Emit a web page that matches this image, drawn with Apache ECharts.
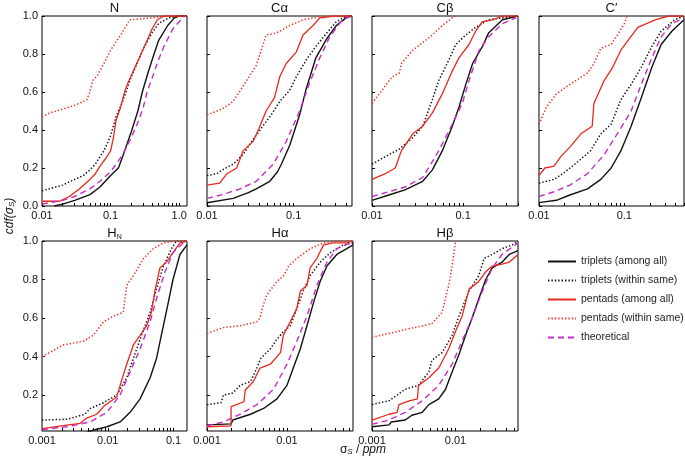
<!DOCTYPE html>
<html><head><meta charset="utf-8">
<script src="https://cdn.jsdelivr.net/npm/echarts@6/dist/echarts.min.js"></script>
<style>html,body{margin:0;padding:0;background:#fff}#c{width:685px;height:460px}</style>
</head><body><div id="c"></div>
<script>
// ---------- DATA ----------
const seriesNames = ['triplets (among all)','triplets (within same)','pentads (among all)','pentads (within same)','theoretical'];
const panelTitles = ['N','Cα','Cβ','C′','HN','Hα','Hβ'];
const xMins = [0.01,0.01,0.01,0.01,0.001,0.001,0.001];
const xMaxs = [1.3,0.47,0.4,0.5,0.16,0.067,0.056];
const xTickLabels = [[0.01,0.1,1],[0.01,0.1],[0.01,0.1],[0.01,0.1],[0.001,0.01,0.1],[0.001,0.01],[0.001,0.01]];
const yTickLabelsTop = [0,0.2,0.4,0.6,0.8,1.0];
const yTickLabelsBottom = [0.2,0.4,0.6,0.8,1.0];

const N_triAll = [[0.015,0],[0.02,0.01],[0.03,0.03],[0.05,0.06],[0.07,0.1],[0.1,0.16],[0.13,0.2],[0.15,0.26],[0.2,0.39],[0.25,0.5],[0.29,0.6],[0.35,0.7],[0.43,0.8],[0.5,0.87],[0.68,0.95],[0.85,0.99],[1.0,1.0],[1.3,1.0]];
const N_triSame = [[0.01,0.08],[0.02,0.11],[0.03,0.14],[0.04,0.16],[0.05,0.19],[0.06,0.22],[0.07,0.26],[0.08,0.29],[0.1,0.37],[0.12,0.47],[0.15,0.55],[0.2,0.68],[0.25,0.76],[0.3,0.83],[0.4,0.91],[0.5,0.96],[0.7,0.99],[1.0,1.0],[1.3,1.0]];
const N_pentAll = [[0.01,0.025],[0.018,0.025],[0.025,0.05],[0.035,0.09],[0.05,0.14],[0.06,0.17],[0.07,0.21],[0.085,0.25],[0.1,0.29],[0.11,0.36],[0.12,0.45],[0.14,0.52],[0.16,0.6],[0.18,0.65],[0.22,0.72],[0.27,0.79],[0.34,0.87],[0.4,0.93],[0.48,0.98],[0.6,1.0],[1.3,1.0]];
const N_pentSame = [[0.01,0.47],[0.013,0.49],[0.02,0.51],[0.03,0.53],[0.04,0.55],[0.045,0.56],[0.05,0.6],[0.055,0.66],[0.065,0.69],[0.08,0.75],[0.1,0.82],[0.14,0.9],[0.19,0.98],[0.4,0.99],[0.6,1.0],[1.3,1.0]];
const N_theo = [[0.01,0.01],[0.02,0.03],[0.03,0.05],[0.05,0.09],[0.07,0.13],[0.1,0.18],[0.15,0.27],[0.2,0.36],[0.25,0.44],[0.3,0.52],[0.34,0.6],[0.4,0.67],[0.5,0.77],[0.6,0.84],[0.8,0.93],[1.0,0.97],[1.2,1.0]];

const Ca_triAll = [[0.01,0.017],[0.02,0.04],[0.03,0.07],[0.037,0.09],[0.053,0.13],[0.065,0.18],[0.072,0.22],[0.09,0.32],[0.117,0.48],[0.14,0.62],[0.18,0.78],[0.24,0.88],[0.31,0.95],[0.4,0.99],[0.47,1.0]];
const Ca_triSame = [[0.01,0.16],[0.013,0.17],[0.015,0.19],[0.02,0.22],[0.026,0.27],[0.034,0.35],[0.044,0.42],[0.055,0.48],[0.069,0.55],[0.09,0.61],[0.107,0.68],[0.14,0.77],[0.18,0.84],[0.24,0.91],[0.31,0.97],[0.4,1.0],[0.47,1.0]];
const Ca_pentAll = [[0.01,0.11],[0.014,0.12],[0.017,0.17],[0.022,0.2],[0.026,0.29],[0.034,0.34],[0.04,0.41],[0.048,0.5],[0.06,0.57],[0.069,0.68],[0.082,0.75],[0.107,0.81],[0.128,0.9],[0.167,0.95],[0.2,0.99],[0.3,1.0],[0.47,1.0]];
const Ca_pentSame = [[0.01,0.48],[0.015,0.51],[0.02,0.55],[0.026,0.63],[0.037,0.74],[0.048,0.9],[0.063,0.91],[0.09,0.95],[0.128,0.98],[0.22,1.0],[0.47,1.0]];
const Ca_theo = [[0.01,0.04],[0.015,0.06],[0.024,0.09],[0.037,0.13],[0.058,0.22],[0.082,0.34],[0.117,0.5],[0.15,0.64],[0.2,0.78],[0.26,0.89],[0.35,0.97],[0.44,1.0]];

const Cb_triAll = [[0.01,0.03],[0.0153,0.058],[0.023,0.085],[0.036,0.13],[0.046,0.19],[0.059,0.29],[0.076,0.42],[0.09,0.52],[0.107,0.64],[0.127,0.75],[0.163,0.84],[0.19,0.91],[0.27,0.98],[0.4,1.0]];
const Cb_triSame = [[0.01,0.22],[0.014,0.26],[0.02,0.3],[0.028,0.36],[0.036,0.42],[0.046,0.56],[0.054,0.66],[0.07,0.77],[0.083,0.85],[0.107,0.9],[0.137,0.94],[0.19,0.98],[0.27,0.99],[0.4,1.0]];
const Cb_pentAll = [[0.01,0.14],[0.014,0.17],[0.018,0.2],[0.021,0.29],[0.028,0.38],[0.036,0.42],[0.046,0.49],[0.059,0.59],[0.076,0.71],[0.09,0.78],[0.116,0.85],[0.137,0.92],[0.163,0.97],[0.21,0.98],[0.27,1.0],[0.4,1.0]];
const Cb_pentSame = [[0.01,0.54],[0.0129,0.61],[0.0166,0.68],[0.02,0.7],[0.021,0.75],[0.028,0.82],[0.036,0.86],[0.046,0.9],[0.059,0.95],[0.076,0.99],[0.083,1.0]];
const Cb_theo = [[0.01,0.05],[0.0153,0.075],[0.023,0.1],[0.036,0.15],[0.054,0.29],[0.076,0.43],[0.098,0.54],[0.116,0.66],[0.15,0.82],[0.19,0.89],[0.27,0.96],[0.38,0.99]];

const Cp_triAll = [[0.01,0.018],[0.016,0.03],[0.023,0.058],[0.037,0.09],[0.053,0.14],[0.07,0.2],[0.091,0.29],[0.12,0.42],[0.158,0.57],[0.21,0.73],[0.27,0.85],[0.36,0.92],[0.5,0.98]];
const Cp_triSame = [[0.01,0.12],[0.015,0.14],[0.019,0.17],[0.028,0.23],[0.04,0.29],[0.053,0.38],[0.07,0.43],[0.091,0.56],[0.12,0.64],[0.158,0.73],[0.21,0.84],[0.27,0.92],[0.39,0.98],[0.5,1.0]];
const Cp_pentAll = [[0.01,0.16],[0.0117,0.2],[0.015,0.21],[0.018,0.26],[0.023,0.31],[0.031,0.38],[0.042,0.42],[0.044,0.54],[0.058,0.66],[0.073,0.73],[0.091,0.82],[0.11,0.87],[0.144,0.94],[0.23,0.98],[0.33,1.0],[0.5,1.0]];
const Cp_pentSame = [[0.01,0.43],[0.0122,0.52],[0.016,0.59],[0.023,0.64],[0.037,0.7],[0.044,0.75],[0.053,0.83],[0.07,0.85],[0.083,0.9],[0.1,0.96],[0.107,1.0]];
const Cp_theo = [[0.01,0.05],[0.015,0.075],[0.023,0.11],[0.037,0.17],[0.058,0.27],[0.091,0.41],[0.12,0.5],[0.158,0.64],[0.21,0.78],[0.27,0.89],[0.36,0.96],[0.5,0.99]];

const Hn_triAll = [[0.0045,0.0],[0.0054,0.013],[0.0097,0.035],[0.0154,0.06],[0.0218,0.11],[0.031,0.18],[0.044,0.29],[0.055,0.39],[0.07,0.56],[0.083,0.68],[0.098,0.8],[0.125,0.93],[0.16,0.98]];
const Hn_triSame = [[0.001,0.07],[0.0024,0.074],[0.0045,0.1],[0.0054,0.13],[0.0086,0.16],[0.0137,0.2],[0.0194,0.29],[0.0245,0.39],[0.031,0.49],[0.044,0.63],[0.055,0.75],[0.07,0.87],[0.093,0.96],[0.11,1.0],[0.16,1.0]];
const Hn_pentAll = [[0.001,0.025],[0.0024,0.044],[0.0038,0.053],[0.0048,0.08],[0.0068,0.1],[0.0086,0.14],[0.0108,0.165],[0.0137,0.19],[0.0154,0.25],[0.0194,0.36],[0.0245,0.46],[0.031,0.51],[0.039,0.56],[0.046,0.63],[0.052,0.74],[0.062,0.86],[0.078,0.89],[0.098,0.94],[0.125,0.99],[0.16,1.0]];
const Hn_pentSame = [[0.001,0.4],[0.0013,0.42],[0.0021,0.46],[0.0043,0.48],[0.006,0.51],[0.0086,0.58],[0.0122,0.61],[0.0172,0.63],[0.0194,0.77],[0.0245,0.82],[0.035,0.91],[0.049,0.96],[0.07,0.99],[0.11,1.0],[0.16,1.0]];
const Hn_theo = [[0.001,0.02],[0.0024,0.035],[0.0054,0.06],[0.0097,0.11],[0.0154,0.2],[0.0218,0.32],[0.031,0.44],[0.044,0.58],[0.055,0.7],[0.074,0.84],[0.098,0.94],[0.14,0.99]];

const Ha_triAll = [[0.001,0.045],[0.002,0.05],[0.0021,0.07],[0.0035,0.1],[0.0051,0.13],[0.0075,0.18],[0.01,0.25],[0.012,0.34],[0.0147,0.44],[0.0178,0.56],[0.0215,0.68],[0.026,0.79],[0.0316,0.87],[0.042,0.93],[0.056,0.96],[0.067,0.98]];
const Ha_triSame = [[0.001,0.15],[0.0015,0.16],[0.0016,0.2],[0.0021,0.21],[0.0026,0.25],[0.0035,0.27],[0.0042,0.34],[0.0047,0.39],[0.0062,0.44],[0.0075,0.49],[0.0091,0.53],[0.011,0.56],[0.0133,0.65],[0.016,0.74],[0.0195,0.82],[0.026,0.89],[0.035,0.94],[0.051,0.98],[0.067,0.99]];
const Ha_pentAll = [[0.001,0.035],[0.002,0.04],[0.002,0.14],[0.0029,0.165],[0.003,0.225],[0.0038,0.27],[0.0046,0.34],[0.0062,0.36],[0.0083,0.42],[0.009,0.51],[0.011,0.58],[0.0133,0.65],[0.0147,0.74],[0.0178,0.77],[0.0195,0.86],[0.0237,0.91],[0.0287,0.98],[0.038,0.99],[0.056,0.99],[0.067,1.0]];
const Ha_pentSame = [[0.001,0.52],[0.0016,0.55],[0.0026,0.56],[0.0042,0.58],[0.0046,0.6],[0.0049,0.65],[0.0056,0.72],[0.0075,0.79],[0.0091,0.82],[0.0105,0.87],[0.0133,0.91],[0.0195,0.96],[0.0287,0.99],[0.042,1.0],[0.067,1.0]];
const Ha_theo = [[0.001,0.04],[0.0016,0.06],[0.0026,0.1],[0.0042,0.15],[0.0068,0.23],[0.01,0.36],[0.0133,0.48],[0.0178,0.61],[0.0237,0.77],[0.0316,0.89],[0.042,0.96],[0.062,0.99]];

const Hb_triAll = [[0.001,0.035],[0.0016,0.045],[0.0017,0.06],[0.0025,0.07],[0.003,0.095],[0.004,0.11],[0.0048,0.15],[0.0063,0.18],[0.0076,0.23],[0.0091,0.32],[0.011,0.41],[0.0132,0.51],[0.0158,0.6],[0.019,0.7],[0.023,0.8],[0.0275,0.86],[0.036,0.89],[0.044,0.93],[0.056,0.95]];
const Hb_triSame = [[0.001,0.15],[0.0016,0.17],[0.0025,0.23],[0.0036,0.25],[0.0048,0.32],[0.0052,0.38],[0.0069,0.42],[0.0091,0.51],[0.011,0.61],[0.0145,0.74],[0.019,0.82],[0.022,0.91],[0.0275,0.93],[0.036,0.96],[0.048,0.98],[0.056,1.0]];
const Hb_pentAll = [[0.001,0.07],[0.0016,0.1],[0.002,0.11],[0.0021,0.15],[0.0028,0.17],[0.0035,0.18],[0.0036,0.25],[0.0048,0.29],[0.0063,0.34],[0.0083,0.44],[0.01,0.53],[0.012,0.61],[0.0145,0.75],[0.019,0.79],[0.023,0.84],[0.0275,0.87],[0.036,0.88],[0.044,0.89],[0.056,0.93]];
const Hb_pentSame = [[0.001,0.5],[0.0016,0.52],[0.0025,0.54],[0.0052,0.57],[0.0069,0.63],[0.0083,0.77],[0.0091,0.87],[0.01,0.995],[0.0102,1.0]];
const Hb_theo = [[0.001,0.048],[0.0016,0.07],[0.0025,0.11],[0.004,0.17],[0.0063,0.25],[0.0091,0.36],[0.012,0.48],[0.0158,0.6],[0.021,0.74],[0.0275,0.86],[0.036,0.93],[0.052,0.98],[0.056,0.99]];

const panelData = [
  [N_triAll, N_triSame, N_pentAll, N_pentSame, N_theo],
  [Ca_triAll, Ca_triSame, Ca_pentAll, Ca_pentSame, Ca_theo],
  [Cb_triAll, Cb_triSame, Cb_pentAll, Cb_pentSame, Cb_theo],
  [Cp_triAll, Cp_triSame, Cp_pentAll, Cp_pentSame, Cp_theo],
  [Hn_triAll, Hn_triSame, Hn_pentAll, Hn_pentSame, Hn_theo],
  [Ha_triAll, Ha_triSame, Ha_pentAll, Ha_pentSame, Ha_theo],
  [Hb_triAll, Hb_triSame, Hb_pentAll, Hb_pentSame, Hb_theo]
];

// ---------- LAYOUT / STYLE ----------
const FONT = 'Liberation Sans, Arial, Helvetica, sans-serif';
const gridBoxes = [
  {left:42, top:16, width:145, height:190},
  {left:207, top:16, width:145, height:190},
  {left:372, top:16, width:146, height:190},
  {left:539, top:16, width:145, height:190},
  {left:42, top:241, width:145, height:190},
  {left:207, top:241, width:146, height:190},
  {left:372, top:241, width:146, height:190}
];
const lineStyles = [
  {color:'#111111', type:'solid', width:1.4},
  {color:'#111111', type:[1.4,2], width:1.5},
  {color:'#e8281c', type:'solid', width:1.3},
  {color:'#ee3322', type:[1.4,2], width:1.5},
  {color:'#c62cc6', type:[6,4], width:1.4}
];

function minorTicks(min, max) {
  const out = [];
  for (let e = Math.floor(Math.log10(min)) ; e <= Math.ceil(Math.log10(max)); e++) {
    for (let k = 1; k <= 9; k++) {
      const v = +(k * Math.pow(10, e)).toPrecision(6);
      if (v >= min * 0.9999 && v <= max * 1.0001) out.push(v);
    }
  }
  return out;
}
function fmtX(v) { return v >= 1 ? '1.0' : String(+v.toPrecision(3)); }

const grids = [], xAxes = [], yAxes = [], series = [];
for (let i = 0; i < 7; i++) {
  const g = gridBoxes[i];
  grids.push(Object.assign({show:true, borderColor:'#000', borderWidth:1, backgroundColor:'transparent', containLabel:false}, g));
  xAxes.push({
    type:'log', logBase:10, gridIndex:i, min:xMins[i], max:xMaxs[i],
    axisLine:{show:false}, splitLine:{show:false},
    axisTick:{show:true, inside:true, length:3, lineStyle:{color:'#000', width:1}, customValues:minorTicks(xMins[i], xMaxs[i])},
    axisLabel:{show:true, customValues:xTickLabels[i], formatter:fmtX, margin:4, color:'#111', fontSize:11, fontFamily:FONT}
  });
  const yl = i < 4 ? yTickLabelsTop : yTickLabelsBottom;
  yAxes.push({
    type:'value', gridIndex:i, min:i < 4 ? 0 : 0.013, max:1,
    axisLine:{show:false}, splitLine:{show:false},
    axisTick:{show:true, inside:true, length:3, lineStyle:{color:'#000', width:1}, customValues:yl},
    axisLabel:{show:(i === 0 || i === 4), customValues:yl, formatter:v => v.toFixed(1), margin:4, color:'#111', fontSize:11, fontFamily:FONT}
  });
  for (let s = 0; s < 5; s++) {
    series.push({
      type:'line', name:seriesNames[s], xAxisIndex:i, yAxisIndex:i,
      data:panelData[i][s], symbol:'none', showSymbol:false, smooth:false,
      clip:true, animation:false, lineStyle:lineStyles[s], itemStyle:{color:lineStyles[s].color},
      z: 2 + s
    });
  }
}

const titleCenters = [[114.5,8],[279.5,8],[445,8],[611.5,8],[114.5,233],[280,233],[445,233]];
const graphics = [];
for (let i = 0; i < 7; i++) {
  let text = panelTitles[i];
  if (text === 'HN') text = '{t|H}{s|N}';
  else text = '{t|' + text + '}';
  graphics.push({
    type:'text', x:titleCenters[i][0], y:titleCenters[i][1],
    style:{text:text, align:'center', verticalAlign:'middle', fill:'#111',
      rich:{t:{fontSize:13, fontFamily:FONT, fill:'#111', lineHeight:15},
            s:{fontSize:7, fontFamily:FONT, fill:'#111', verticalAlign:'bottom', lineHeight:11}}}
  });
}
graphics.push({
  type:'text', x:10, y:216, rotation:Math.PI/2,
  style:{text:'{i|cdf(σ}{s|S}{i|)}', align:'center', verticalAlign:'middle',
    rich:{i:{fontSize:12, fontStyle:'italic', fontFamily:FONT, fill:'#111'},
          s:{fontSize:8, fontStyle:'italic', fontFamily:FONT, fill:'#111', verticalAlign:'bottom'}}}
});
graphics.push({
  type:'text', x:363, y:450,
  style:{text:'{g|σ}{s|S}{g| / }{i|ppm}', align:'center', verticalAlign:'middle',
    rich:{g:{fontSize:12, fontFamily:FONT, fill:'#111'},
          s:{fontSize:8, fontStyle:'italic', fontFamily:FONT, fill:'#111', verticalAlign:'bottom'},
          i:{fontSize:12, fontStyle:'italic', fontFamily:FONT, fill:'#111'}}}
});

const option = {
  animation:false,
  backgroundColor:'#fff',
  grid:grids, xAxis:xAxes, yAxis:yAxes, series:series,
  legend:{
    data:seriesNames, orient:'vertical', left:542, top:251,
    itemWidth:28, itemHeight:10, itemGap:8, selectedMode:false,
    itemStyle:{color:'transparent', borderColor:'transparent', borderWidth:0, opacity:0},
    textStyle:{fontSize:10.5, fontFamily:FONT, color:'#222'}
  },
  graphic:graphics
};
const chart = echarts.init(document.getElementById('c'), null, {renderer:'canvas'});
chart.setOption(option);
</script></body></html>
